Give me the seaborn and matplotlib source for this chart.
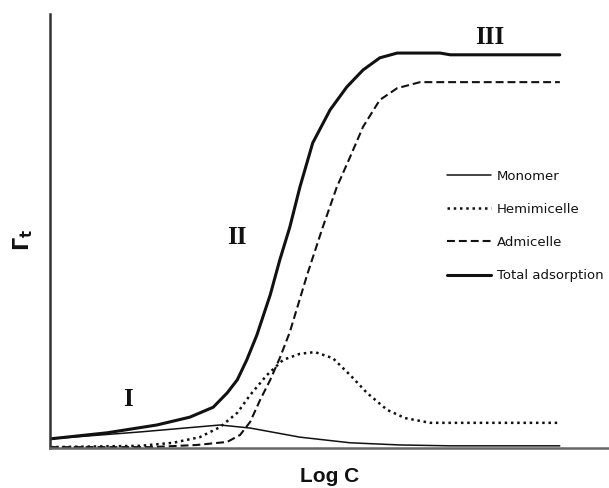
import seaborn as sns
from matplotlib import pyplot as plt
import pandas as pd

# curves (x = Log C, y = adsorbed amount, arbitrary units)
total_x = [0, 1.02, 1.91, 2.50, 2.92, 3.17, 3.35, 3.52, 3.70, 3.94, 4.11, 4.29, 4.47,
           4.70, 5.01, 5.31, 5.60, 5.90, 6.21, 6.98, 7.16, 9.12]
total_y = [2.1, 3.5, 5.3, 7.1, 9.4, 12.7, 15.7, 20.3, 26.0, 35.3, 43.3, 50.9, 60.1,
           70.3, 77.9, 83.2, 87.1, 89.9, 91.0, 91.0, 90.6, 90.6]

admi_x = [0, 1.79, 2.63, 3.17, 3.40, 3.58, 3.76, 3.94, 4.11, 4.29, 4.60, 4.88, 5.13,
          5.37, 5.60, 5.90, 6.21, 6.62, 9.12]
admi_y = [0.2, 0.2, 0.7, 1.4, 3.0, 6.0, 11.1, 15.7, 20.7, 26.7, 39.9, 50.9, 60.1,
          67.1, 74.0, 80.2, 82.9, 84.3, 84.3]

hemi_x = [0, 1.61, 2.20, 2.68, 3.04, 3.35, 3.58, 3.88, 4.17, 4.47, 4.74, 5.06, 5.37,
          5.67, 6.03, 6.35, 6.80, 9.12]
hemi_y = [0.2, 0.5, 1.2, 2.5, 4.8, 8.1, 12.2, 16.8, 20.3, 21.7, 22.1, 20.7, 16.8,
          12.7, 8.8, 6.9, 5.8, 5.8]

mono_x = [0, 1.61, 3.04, 3.58, 4.47, 5.37, 6.26, 7.16, 9.12]
mono_y = [2.1, 3.7, 5.3, 4.6, 2.5, 1.2, 0.7, 0.5, 0.5]

series_names = ['Monomer', 'Hemimicelle', 'Admicelle', 'Total adsorption']
regions = ['I', 'II', 'III']
region_pos = [(1.40, 11.1), (3.35, 48.6), (7.87, 94.7)]

sns.set_theme(style='white')
plt.rcParams['font.family'] = ['DejaVu Sans']

fig = plt.figure(figsize=(6.09, 4.88), dpi=100)
ax = fig.add_axes([50 / 609, 40 / 488, 559 / 609, 434 / 488])

ink = '#111111'
data = [(mono_x, mono_y, '-', 1.1),
        (hemi_x, hemi_y, (0, (1, 1.5)), 1.8),
        (admi_x, admi_y, (0, (3.8, 1.9)), 1.5),
        (total_x, total_y, '-', 2.2)]
for name, (xs, ys, ls, lw) in zip(series_names, data):
    df = pd.DataFrame({'logc': xs, 'gamma': ys})
    sns.lineplot(data=df, x='logc', y='gamma', ax=ax, color=ink, linestyle=ls,
                 linewidth=lw, label=name, sort=False)

ax.set_xlim(0, 10)
ax.set_ylim(0, 100)
ax.set_xticks([])
ax.set_yticks([])
ax.set_xlabel('')
ax.set_ylabel('')
for side in ['top', 'right']:
    ax.spines[side].set_visible(False)
ax.spines['left'].set_color('#333333')
ax.spines['left'].set_linewidth(1.8)
ax.spines['bottom'].set_color('#666666')
ax.spines['bottom'].set_linewidth(1.8)

for lab, (tx, ty) in zip(regions, region_pos):
    ax.text(tx, ty, lab, family='Liberation Serif', fontsize=18, fontweight='bold',
            ha='center', va='center', color=ink)

fig.text(330 / 609, 1 - 476 / 488, 'Log C', fontsize=15, fontweight='bold',
         family='Liberation Sans', ha='center', va='center', color=ink)
fig.text(23 / 609, 1 - 240 / 488, r'$\mathbf{\Gamma_t}$', fontsize=15, rotation=90,
         ha='center', va='center', color=ink)

ax.legend(loc='upper left', bbox_to_anchor=(447 / 609, 1 - 170 / 488),
          bbox_transform=fig.transFigure, frameon=False, fontsize=9.5,
          handlelength=3.3, handletextpad=0.5, labelspacing=1.52,
          borderpad=0, borderaxespad=0, labelcolor=ink)

fig.savefig('out.png', dpi=100)
